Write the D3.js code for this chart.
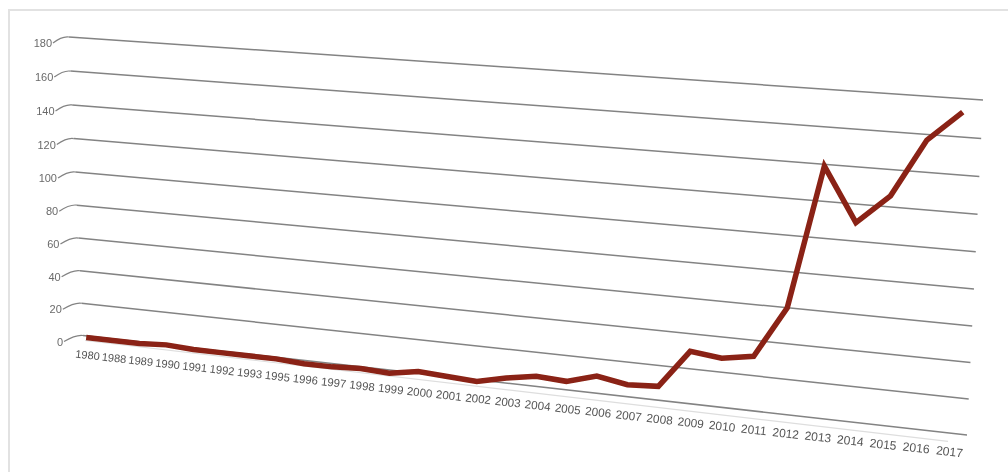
<!DOCTYPE html>
<html>
<head>
<meta charset="utf-8">
<script src="https://cdn.jsdelivr.net/npm/d3@7"></script>
<style>
  html, body { margin: 0; padding: 0; background: #fff; }
  svg { display: block; }
  text { font-family: "Liberation Sans", Arial, Helvetica, sans-serif; }
</style>
</head>
<body>
<svg id="chart" width="1008" height="472"></svg>
<script>
// ---- data ----
const categories = ["1980","1988","1989","1990","1991","1992","1993","1995","1996","1997",
  "1998","1999","2000","2001","2002","2003","2004","2005","2006","2007",
  "2008","2009","2010","2011","2012","2013","2014","2015","2016","2017"];
const values = [-1, -1, -1, 0, -1, -1, -1, -1, -2, -2,
  -1, -2, 1, 0, -1, 3, 6, 5, 10, 7,
  8, 30, 28, 31, 60, 139, 110, 126, 157, 173];
const yTicks = [0, 20, 40, 60, 80, 100, 120, 140, 160, 180];

// ---- layout (perspective plane corners) ----
const W = 1008, H = 472;
const corner00 = [83, 335.5];  // left, value 0
const corner10 = [967, 435];   // right, value 0
const corner11 = [983, 100];   // right, value max
const corner01 = [69, 37];     // left, value max

function makeHomography(p00, p10, p11, p01) {
  const [x0, y0] = p00, [x1, y1] = p10, [x2, y2] = p11, [x3, y3] = p01;
  const dx1 = x1 - x2, dx2 = x3 - x2, dx3 = x0 - x1 + x2 - x3;
  const dy1 = y1 - y2, dy2 = y3 - y2, dy3 = y0 - y1 + y2 - y3;
  const det = dx1 * dy2 - dx2 * dy1;
  const g = (dx3 * dy2 - dx2 * dy3) / det;
  const h = (dx1 * dy3 - dx3 * dy1) / det;
  const a = x1 - x0 + g * x1, b = x3 - x0 + h * x3, c = x0;
  const d = y1 - y0 + g * y1, e = y3 - y0 + h * y3, f = y0;
  return (u, v) => { const w = g * u + h * v + 1; return [(a * u + b * v + c) / w, (d * u + e * v + f) / w]; };
}
const project = makeHomography(corner00, corner10, corner11, corner01);

const x = d3.scalePoint().domain(categories).range([0.004, 0.981]);
const y = d3.scaleLinear().domain([0, 180]).range([0, 1]);

const svg = d3.select("#chart");
svg.append("rect").attr("width", W).attr("height", H).attr("fill", "#fff");

const defs = svg.append("defs");
defs.append("filter").attr("id", "soft")
  .append("feGaussianBlur").attr("stdDeviation", 0.45);

// frame
svg.append("path")
  .attr("d", `M9,${H} L9,10 L${W},10`)
  .attr("fill", "none").attr("stroke", "#e2e2e2").attr("stroke-width", 2);

const g = svg.append("g").attr("filter", "url(#soft)");

// faint axis line just below zero line
const axA = project(0.0, y(0)), axB = project(0.985, y(0));
g.append("line")
  .attr("x1", axA[0] + 2).attr("y1", axA[1] + 5)
  .attr("x2", axB[0] - 4).attr("y2", axB[1] + 8)
  .attr("stroke", "#dedede").attr("stroke-width", 1.2);

// gridlines, hooks and y labels
const grid = g.append("g");
yTicks.forEach(t => {
  const v = y(t);
  const s = project(0, v), e = project(1, v);
  grid.append("line")
    .attr("x1", s[0]).attr("y1", s[1]).attr("x2", e[0]).attr("y2", e[1])
    .attr("stroke", "#838383").attr("stroke-width", 1.5);
  const lx = s[0] - 17 - 3 * (1 - v), ly = s[1] + 6;
  grid.append("path")
    .attr("d", `M${lx + 1},${ly} Q${s[0] - 7},${s[1] - 1} ${s[0]},${s[1]}`)
    .attr("fill", "none").attr("stroke", "#838383").attr("stroke-width", 1.2);
  grid.append("text")
    .attr("x", lx).attr("y", ly + 4)
    .attr("text-anchor", "end")
    .attr("font-size", 11)
    .attr("fill", "#6a6a6a")
    .text(t);
});

// x labels
const xl = g.append("g");
categories.forEach(c => {
  const u = x(c);
  const p = project(u, 0);
  const p1 = project(u - 0.01, 0), p2 = project(u + 0.01, 0);
  const ang = Math.atan2(p2[1] - p1[1], p2[0] - p1[0]) * 180 / Math.PI;
  const fs = 11 + 1.2 * u;
  xl.append("text")
    .attr("transform", `translate(${p[0] + 1},${p[1] + 23}) rotate(${ang})`)
    .attr("text-anchor", "middle")
    .attr("font-size", fs)
    .attr("fill", "#555")
    .text(c);
});

// data line
const line = d3.line()
  .x((d, i) => project(x(categories[i]), y(d))[0])
  .y((d, i) => project(x(categories[i]), y(d))[1]);
g.append("path")
  .datum(values)
  .attr("d", line)
  .attr("fill", "none")
  .attr("stroke", "#8a2213")
  .attr("stroke-width", 5.5)
  .attr("stroke-linejoin", "miter")
  .attr("stroke-miterlimit", 4);
</script>
</body>
</html>
